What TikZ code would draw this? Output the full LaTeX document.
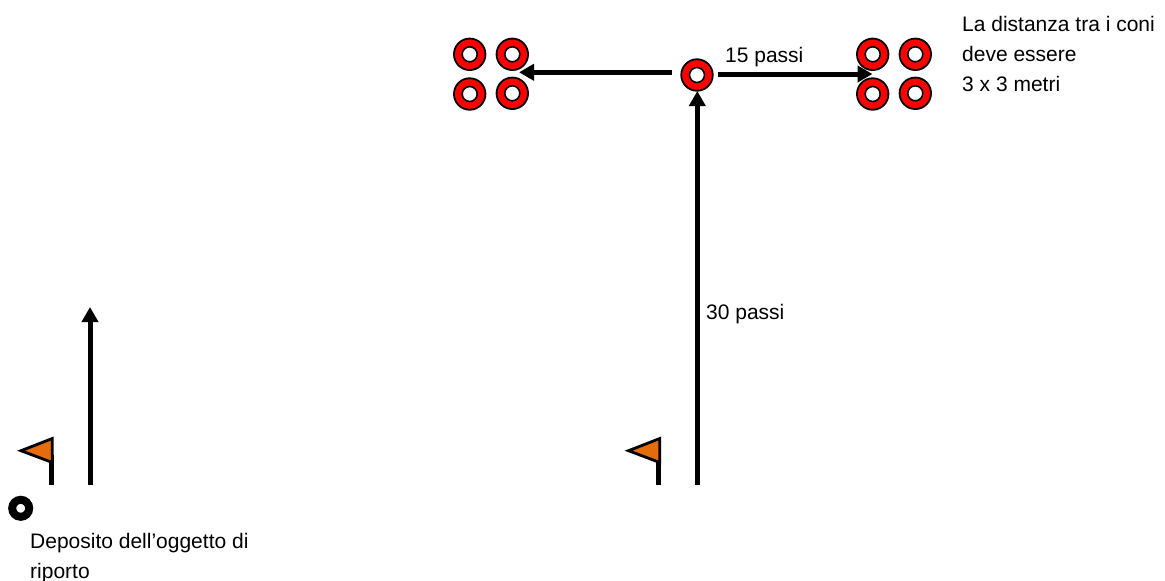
\documentclass[tikz,border=0pt]{standalone}
\usepackage{fontspec}
\setmainfont{Liberation Sans}
\usetikzlibrary{arrows.meta}
\definecolor{flagorange}{RGB}{228,108,10}
\tikzset{
  conering/.style={circle,draw=black,line width=1.8pt,fill=red,minimum size=31.5pt,inner sep=0pt},
  conehole/.style={circle,draw=black,line width=1.6pt,fill=white,minimum size=15pt,inner sep=0pt},
  bigarrow/.style={line width=5pt,-{Triangle[length=15pt,width=16pt]},shorten >=0pt},
  flagpole/.style={line width=5pt},
  flagtri/.style={draw=black,line width=2.8pt,fill=flagorange,line join=miter},
  lbl/.style={anchor=west,inner sep=0pt,font=\fontsize{21}{30}\selectfont,align=left},
}
\newcommand{\cone}[3]{\node[conering] (#1) at (#2,#3) {}; \node[conehole] at (#2,#3) {};}
\begin{document}
\begin{tikzpicture}[x=1pt,y=-1pt]
\useasboundingbox (0,0) rectangle (1165,581);
\cone{la}{469.7}{54.3}
\cone{lb}{512.3}{54.3}
\cone{lc}{469.7}{94}
\cone{ld}{512.3}{93.3}
\cone{center}{697}{75}
\cone{ra}{872.7}{54.3}
\cone{rb}{915.3}{54.3}
\cone{rc}{872.7}{94}
\cone{rd}{915.3}{93.3}
\coordinate (lfrom) at (671.7,72.3);
\coordinate (lto) at (519,72.3);
\coordinate (rfrom) at (718,74);
\coordinate (rto) at (872.5,74);
\coordinate (ufrom) at (697.3,485);
\coordinate (uto) at (697.3,91);
\coordinate (vfrom) at (90,485);
\coordinate (vto) at (90,307);
\draw[bigarrow] (lfrom) -- (lto);
\draw[bigarrow] (rfrom) -- (rto);
\draw[bigarrow] (ufrom) -- (uto);
\draw[bigarrow] (vfrom) -- (vto);
\coordinate (p1a) at (51,485);
\coordinate (p1b) at (51,455);
\coordinate (p2a) at (658.3,485);
\coordinate (p2b) at (658.3,455);
\draw[flagpole] (p1a) -- (p1b);
\draw[flagpole] (p2a) -- (p2b);
\draw[flagtri] (21,450.7) -- (52.3,438.5) -- (52.3,462.5) -- cycle;
\draw[flagtri] (628.5,450.7) -- (659.8,438.5) -- (659.8,462.5) -- cycle;
\node[circle,draw=black,line width=8pt,fill=white,minimum size=17pt,inner sep=0pt,outer sep=0pt] (deposit) at (20.7,508.3) {};
\node[lbl] (t15) at (725,57) {15 passi};
\node[lbl] (t30) at (706,314) {30 passi};
\node[lbl,anchor=north west] (tcone) at (962,16.5) {La distanza tra i coni\\deve essere\\3 x 3 metri};
\node[lbl,anchor=north west] (tdep) at (30,533) {Deposito dell’oggetto di\\riporto};
\end{tikzpicture}
\end{document}
